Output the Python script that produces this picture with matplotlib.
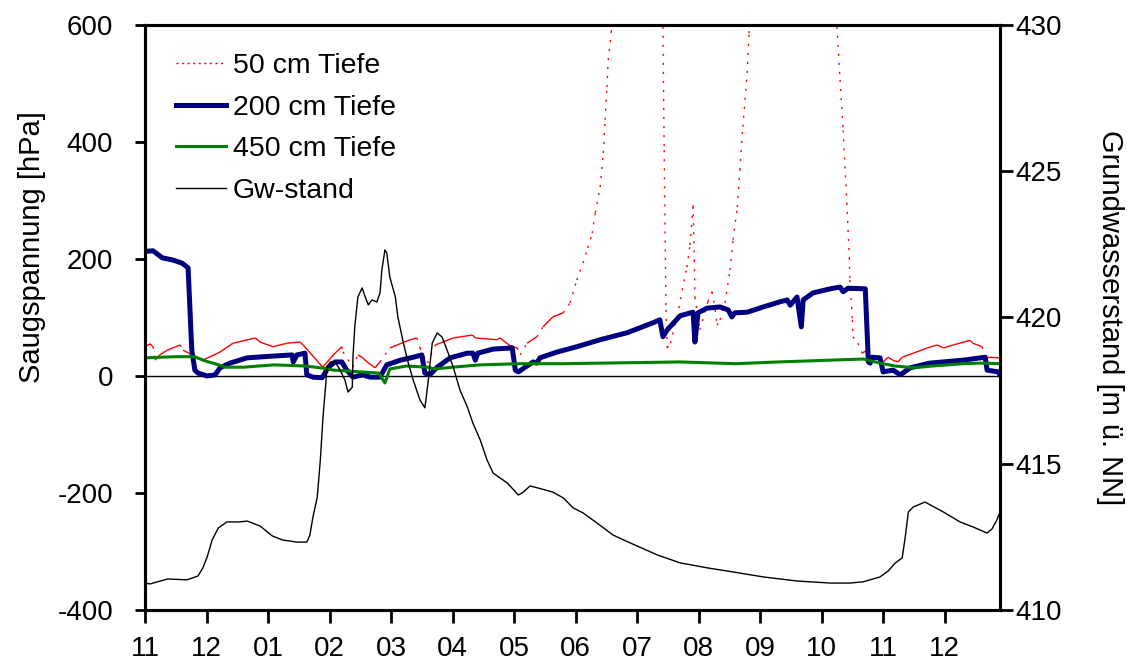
import numpy as np
import matplotlib.pyplot as plt
from matplotlib.collections import LineCollection
from matplotlib.lines import Line2D

plt.rcParams['font.family'] = ['Liberation Sans', 'DejaVu Sans']
plt.rcParams['axes.unicode_minus'] = False

# Zeitachse in Monaten ab 1. November (0 = Nov, 13 = Dez im Folgejahr)
month_labels = ['11', '12', '01', '02', '03', '04', '05', '06', '07', '08', '09', '10', '11', '12']

# 50 cm Tiefe (Saugspannung hPa), Werte > 600 liegen ausserhalb der Achse
t50 = [0, 0.08, 0.13, 0.16, 0.24, 0.36, 0.57, 0.62, 0.86, 0.94, 1.02, 1.22, 1.43, 1.79, 1.87,
       2.08, 2.31, 2.52, 2.57, 2.89, 3.06, 3.20, 3.22, 3.38, 3.46, 3.53, 3.61, 3.74, 3.82, 3.98,
       4.31, 4.42, 4.47, 4.59, 4.72, 5.01, 5.32, 5.37, 5.72, 5.77, 5.93, 6.05, 6.10, 6.21, 6.37,
       6.47, 6.63, 6.80, 6.91, 7.02, 7.12, 7.20, 7.27, 7.32, 7.40, 7.45, 7.48, 7.51, 7.53, 7.58,
       7.62, 7.80, 8.30, 8.41, 8.42, 8.44, 8.46, 8.47, 8.49, 8.54, 8.65, 8.81, 8.86, 8.91, 8.93,
       8.94, 9.02, 9.15, 9.22, 9.27, 9.30, 9.35, 9.43, 9.51, 9.56, 9.63, 9.67, 9.72, 9.79, 9.82,
       9.86, 10.2, 10.9, 11.22, 11.25, 11.30, 11.35, 11.41, 11.45, 11.46, 11.50, 11.51, 11.59, 11.66,
       11.74, 11.76, 11.90, 12.00, 12.08, 12.16, 12.24, 12.31, 12.49, 12.72, 12.88, 12.98, 13.14,
       13.41, 13.46, 13.61, 13.66, 13.74, 13.90]
s50 = [50, 55, 50, 27, 36, 44, 53, 44, 31, 27, 31, 41, 56, 65, 58,
       50, 56, 58, 53, 15, 36, 50, 41, 15, 36, 32, 24, 14, 24, 48,
       62, 65, 48, 22, 53, 65, 70, 65, 62, 65, 52, 48, 36, 56, 67,
       84, 101, 108, 125, 164, 193, 219, 244, 279, 323, 381, 438, 494, 540, 588,
       640, 800, 800, 640, 597, 386, 202, 113, 48, 56, 101, 186, 224, 292, 198,
       135, 79, 127, 144, 113, 87, 96, 125, 181, 233, 289, 352, 426, 518, 586,
       640, 900, 900, 640, 597, 506, 420, 296, 202, 164, 96, 67, 56, 39,
       44, 31, 32, 24, 32, 27, 24, 32, 39, 48, 53, 48, 53,
       61, 56, 50, 32, 32, 31]

# 200 cm Tiefe
t200 = [0, 0.13, 0.28, 0.46, 0.60, 0.70, 0.76, 0.81, 0.86, 1.01, 1.14, 1.22, 1.38, 1.66, 2.08,
        2.39, 2.41, 2.47, 2.60, 2.63, 2.73, 2.88, 2.98, 3.09, 3.20, 3.28, 3.38, 3.54, 3.66, 3.82,
        3.93, 4.15, 4.36, 4.50, 4.55, 4.63, 4.75, 4.96, 5.24, 5.33, 5.37, 5.41, 5.66, 5.97, 6.02,
        6.07, 6.18, 6.31, 6.37, 6.42, 6.70, 7.02, 7.40, 7.84, 8.26, 8.37, 8.42, 8.49, 8.70, 8.91,
        8.94, 8.99, 9.14, 9.35, 9.48, 9.54, 9.59, 9.79, 10.05, 10.33, 10.44, 10.49, 10.60, 10.67, 10.70,
        10.86, 11.14, 11.30, 11.35, 11.43, 11.71, 11.76, 11.79, 11.82, 11.95, 12.00, 12.16, 12.28, 12.44,
        12.76, 13.30, 13.58, 13.66, 13.69, 13.87, 13.90]
s200 = [213, 214, 202, 198, 193, 185, 44, 10, 5, 0, 2, 14, 22, 31, 34,
        36, 24, 36, 39, 2, -2, -3, 15, 24, 24, 10, -2, 2, -2, -2,
        19, 27, 32, 36, 5, 2, 15, 31, 39, 39, 27, 39, 46, 48, 10,
        7, 15, 24, 22, 31, 41, 50, 62, 74, 91, 96, 67, 79, 103, 109,
        58, 108, 116, 118, 113, 101, 108, 109, 118, 127, 130, 121, 135, 84, 130,
        142, 149, 152, 144, 150, 149, 24, 22, 32, 31, 7, 10, 2, 14,
        22, 27, 31, 32, 10, 7, 2]

# 450 cm Tiefe
t450 = [0, 0.5, 0.8, 1.0, 1.2, 1.3, 1.6, 2.1, 2.6, 2.85, 3.07, 3.35, 3.8, 3.9, 3.98,
        4.25, 4.6, 4.7, 5.0, 5.45, 6.1, 6.8, 8.7, 9.6, 10.3, 11.68, 11.95, 12.2, 12.5, 12.8,
        13.3, 13.58, 13.9]
s450 = [31, 33, 33, 25, 19, 15, 15, 19, 17, 14, 10, 8, 5, -12, 12,
        17, 15, 12, 15, 19, 21, 21, 24, 21, 24, 29, 22, 17, 14, 17,
        21, 22, 21]

# Grundwasserstand [m ü. NN]
tgw = [0, 0.08, 0.37, 0.68, 0.86, 0.94, 1.01, 1.09, 1.19, 1.33, 1.54, 1.66, 1.87, 2.07, 2.24,
       2.47, 2.63, 2.68, 2.73, 2.80, 2.85, 2.89, 2.93, 2.96, 3.01, 3.09, 3.17, 3.25, 3.30, 3.37,
       3.38, 3.41, 3.46, 3.53, 3.58, 3.63, 3.69, 3.77, 3.82, 3.85, 3.90, 3.93, 3.98, 4.07, 4.11,
       4.20, 4.28, 4.36, 4.47, 4.55, 4.60, 4.67, 4.75, 4.83, 4.91, 5.01, 5.12, 5.24, 5.33, 5.45,
       5.56, 5.66, 5.89, 6.07, 6.15, 6.26, 6.39, 6.63, 6.80, 6.96, 7.12, 7.35, 7.61, 7.89, 8.33,
       8.70, 9.14, 9.56, 10.05, 10.60, 11.14, 11.46, 11.67, 11.95, 12.08, 12.20, 12.31, 12.36, 12.41,
       12.49, 12.68, 12.98, 13.25, 13.46, 13.69, 13.77, 13.85, 13.90]
gw = [410.92, 410.89, 411.06, 411.03, 411.16, 411.44, 411.81, 412.39, 412.80, 413.01, 413.01, 413.04,
      412.87, 412.53, 412.39, 412.32, 412.32, 412.56, 413.18, 413.86, 415.13, 416.50, 417.52, 418.31,
      418.48, 418.48, 418.21, 417.86, 417.45, 417.62, 418.65, 419.68, 420.70, 421.01, 420.70, 420.43,
      420.60, 420.53, 420.84, 421.62, 422.31, 422.21, 421.38, 420.70, 420.02, 419.13, 418.44, 417.86,
      417.18, 416.91, 417.76, 419.13, 419.47, 419.33, 418.89, 418.31, 417.52, 416.94, 416.39, 415.81,
      415.13, 414.68, 414.34, 413.93, 414.03, 414.24, 414.17, 414.03, 413.83, 413.49, 413.32, 412.97,
      412.56, 412.29, 411.88, 411.61, 411.44, 411.30, 411.13, 410.99, 410.92, 410.92, 410.96, 411.13,
      411.33, 411.61, 411.78, 412.50, 413.35, 413.52, 413.69, 413.35, 413.01, 412.84, 412.63, 412.77,
      413.08, 413.35]

fig = plt.figure(figsize=(11.27, 6.70), dpi=100)
ax = fig.add_axes([0.1287, 0.0896, 0.7586, 0.8731])
ax.set_xlim(0, 13.9)
ax.set_ylim(-400, 600)
ax2 = ax.twinx()
ax2.set_ylim(410, 430)

# 50 cm: flache Abschnitte durchgezogen, steile Abschnitte gepunktet (wie im Original)
pts = np.column_stack([t50, s50])
segs = np.stack([pts[:-1], pts[1:]], axis=1)
pix = ax.transData.transform(pts)
d = np.diff(pix, axis=0)
steep = np.abs(d[:, 1]) > 1.3 * np.abs(d[:, 0])
styles = [(0, (1.5, 5)) if s else 'solid' for s in steep]
lc = LineCollection(segs, colors='#ff0000', linewidths=1.0, linestyles=styles, zorder=2)
ax.add_collection(lc, autolim=False)

ax.axhline(0, color='black', lw=1.0, zorder=1)
ax.plot(t200, s200, color='#000080', lw=3.6, zorder=3)
ax.plot(t450, s450, color='#008000', lw=2.2, zorder=4)
ax2.plot(tgw, gw, color='black', lw=1.0)

ax.set_xticks(np.arange(len(month_labels)))
ax.set_xticklabels(month_labels)
ax.set_yticks([-400, -200, 0, 200, 400, 600])
ax2.set_yticks([410, 415, 420, 425, 430])

ax.tick_params(axis='x', direction='out', length=9, width=2, labelsize=20, pad=10)
ax.tick_params(axis='y', direction='out', length=7, width=2, labelsize=20, pad=16)
ax2.tick_params(axis='y', direction='out', length=9, width=2, labelsize=20, pad=2)
for a in (ax, ax2):
    for sp in a.spines.values():
        sp.set_linewidth(2.2)

ax.set_ylabel('Saugspannung [hPa]', fontsize=21)
ax.yaxis.set_label_coords(-0.116, 0.62)
ax2.set_ylabel('Grundwasserstand [m ü. NN]', fontsize=21, rotation=270, va='bottom')
ax2.yaxis.set_label_coords(1.112, 0.5)

handles = [
    Line2D([], [], color='#ff0000', lw=1.0, linestyle=(0, (1.5, 2.5))),
    Line2D([], [], color='#000080', lw=3.6),
    Line2D([], [], color='#008000', lw=2.2),
    Line2D([], [], color='black', lw=1.0),
]
labels = ['50 cm Tiefe', '200 cm Tiefe', '450 cm Tiefe', 'Gw-stand']
ax2.legend(handles, labels, loc='upper left', bbox_to_anchor=(0.036, 0.952), frameon=False,
           fontsize=20.5, handlelength=1.75, handletextpad=0.25, labelspacing=0.55, borderpad=0,
           borderaxespad=0)

plt.savefig('out.png', dpi=100)
